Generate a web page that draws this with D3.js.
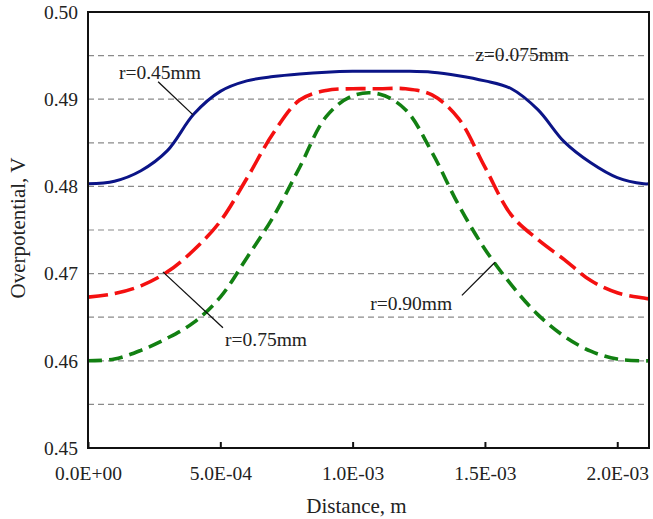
<!DOCTYPE html>
<html>
<head>
<meta charset="utf-8">
<script src="https://cdn.jsdelivr.net/npm/d3@7"></script>
<style>
    body { margin: 0; background: #fff; }
    text { font-family: "Liberation Serif", "Times New Roman", serif; fill: #222; }
    .grid-line { stroke: #8a8a8a; stroke-width: 1.2; stroke-dasharray: 6,4; }
    .line { fill: none; }
</style>
</head>
<body>
<div id="chart"></div>
<script>
// distance along the surface, m
const distance = [0, 1e-4, 2e-4, 3e-4, 4e-4, 5e-4, 6e-4, 7e-4, 8e-4, 9e-4, 1.0e-3,
    1.1e-3, 1.2e-3, 1.3e-3, 1.4e-3, 1.5e-3, 1.6e-3, 1.7e-3, 1.8e-3, 1.9e-3, 2.0e-3, 2.1e-3, 2.12e-3];

// overpotential, V
const r045 = [0.4803, 0.4806, 0.4818, 0.4841, 0.4883, 0.4909, 0.4921, 0.4926, 0.4929, 0.4931, 0.4932,
    0.4932, 0.4932, 0.4931, 0.4927, 0.4921, 0.4912, 0.4888, 0.4851, 0.4827, 0.4810, 0.4803, 0.4803];
const r075 = [0.4673, 0.4677, 0.4686, 0.4702, 0.4727, 0.4760, 0.4809, 0.4861, 0.4899, 0.4910, 0.4912,
    0.4912, 0.4912, 0.4905, 0.4878, 0.4822, 0.4767, 0.4739, 0.4716, 0.4692, 0.4678, 0.4672, 0.4671];
const r090 = [0.4600, 0.4602, 0.4612, 0.4626, 0.4644, 0.4673, 0.4718, 0.4765, 0.4822, 0.4880, 0.4904,
    0.4906, 0.4888, 0.4839, 0.4779, 0.4728, 0.4687, 0.4653, 0.4628, 0.4611, 0.4602, 0.4600, 0.4600];

const xTicks = [0, 5e-4, 1e-3, 1.5e-3, 2e-3];
const xTickLabels = ["0.0E+00", "5.0E-04", "1.0E-03", "1.5E-03", "2.0E-03"];
const yTicks = [0.45, 0.46, 0.47, 0.48, 0.49, 0.50];
const gridValues = [0.455, 0.46, 0.465, 0.47, 0.475, 0.48, 0.485, 0.49, 0.495];

// annotations: label, text anchor point, leader line from / to (data units)
const labels = [
    {text: "r=0.45mm", x: 1.17e-4, y: 0.4931, anchor: "start", from: [2.65e-4, 0.4920], to: [3.97e-4, 0.4882]},
    {text: "z=0.075mm", x: 1.463e-3, y: 0.4952, anchor: "start", from: null, to: null},
    {text: "r=0.75mm", x: 5.18e-4, y: 0.4625, anchor: "start", from: [5.10e-4, 0.4638], to: [2.83e-4, 0.4702]},
    {text: "r=0.90mm", x: 1.376e-3, y: 0.4666, anchor: "end", from: [1.413e-3, 0.4675], to: [1.538e-3, 0.4713]}
];

// set the dimensions and margins of the graph
let margin = {top: 12, right: 4, bottom: 71, left: 88},
    width = 653 - margin.left - margin.right,
    height = 519 - margin.top - margin.bottom;

let svg = d3.select("#chart")
    .append("svg")
    .attr("width", 653)
    .attr("height", 519);

let g = svg.append("g")
    .attr("transform", "translate(" + margin.left + "," + margin.top + ")");

let x = d3.scaleLinear().domain([0, 2.12e-3]).range([0, width]);
let y = d3.scaleLinear().domain([0.45, 0.50]).range([height, 0]);

// dashed horizontal grid
g.selectAll(".grid-line")
    .data(gridValues)
    .enter().append("line")
    .attr("class", "grid-line")
    .attr("x1", 0)
    .attr("x2", width)
    .attr("y1", function(d) { return y(d); })
    .attr("y2", function(d) { return y(d); });

// x axis with ticks pointing inwards
let xAxis = g.append("g")
    .attr("transform", "translate(0," + height + ")")
    .call(d3.axisBottom(x).tickValues(xTicks)
        .tickFormat(function(d, i) { return xTickLabels[i]; })
        .tickSizeInner(-6).tickSizeOuter(0).tickPadding(18));
xAxis.select(".domain").remove();
xAxis.selectAll("line").attr("stroke", "#111").attr("stroke-width", 2);
xAxis.selectAll("text").style("font-size", "19.5px");

// y axis labels only
let yAxis = g.append("g")
    .call(d3.axisLeft(y).tickValues(yTicks)
        .tickFormat(d3.format(".2f"))
        .tickSize(0).tickPadding(10));
yAxis.select(".domain").remove();
yAxis.selectAll("text").style("font-size", "19.5px");

// series
const series = [
    {values: r045, color: "#0b1487", dash: null, width: 3},
    {values: r075, color: "#f41010", dash: "20,7", width: 3.6},
    {values: r090, color: "#128012", dash: "14,7", width: 3.6}
];

series.forEach(function(s) {
    // smooth curve through the read points
    let line = d3.line()
        .curve(d3.curveCatmullRom.alpha(0.5))
        .x(function(d, i) { return x(distance[i]); })
        .y(function(d) { return y(d); });
    g.append("path")
        .datum(s.values)
        .attr("class", "line")
        .attr("stroke", s.color)
        .attr("stroke-width", s.width)
        .attr("stroke-dasharray", s.dash)
        .attr("d", line);
});

// frame
g.append("rect")
    .attr("width", width)
    .attr("height", height)
    .attr("fill", "none")
    .attr("stroke", "#111")
    .attr("stroke-width", 2);

// annotations
labels.forEach(function(l) {
    if (l.from) {
        g.append("line")
            .attr("x1", x(l.from[0])).attr("y1", y(l.from[1]))
            .attr("x2", x(l.to[0])).attr("y2", y(l.to[1]))
            .attr("stroke", "#111")
            .attr("stroke-width", 1.3);
    }
    g.append("text")
        .attr("x", x(l.x))
        .attr("y", y(l.y))
        .attr("dy", "0.35em")
        .attr("text-anchor", l.anchor)
        .style("font-size", "19.5px")
        .text(l.text);
});

// axis titles
svg.append("text")
    .attr("x", margin.left + width / 2 - 12)
    .attr("y", 506)
    .attr("dy", "0.35em")
    .attr("text-anchor", "middle")
    .style("font-size", "21px")
    .text("Distance, m");

svg.append("text")
    .attr("transform", "translate(18,228) rotate(-90)")
    .attr("dy", "0.35em")
    .attr("text-anchor", "middle")
    .style("font-size", "21px")
    .text("Overpotential, V");
</script>
</body>
</html>
